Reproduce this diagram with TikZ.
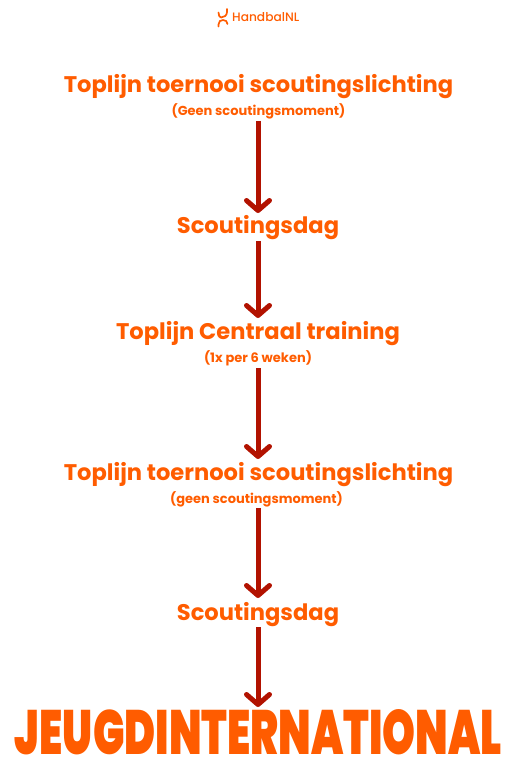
\documentclass[tikz,border=0pt]{standalone}
\usepackage{fontspec}
\setmainfont{Poppins}[BoldFont={Poppins Bold}]
\newfontfamily\heavyfont{Poppins Black}
\newfontfamily\logofont{Poppins Medium}
\usetikzlibrary{arrows.meta}
\definecolor{hnlorange}{HTML}{FF5C00}
\definecolor{hnlred}{HTML}{B21200}
\tikzset{
  title/.style={text=hnlorange,inner sep=0pt,anchor=base,font=\bfseries\fontsize{22.6}{24}\selectfont},
  subtitle/.style={text=hnlorange,inner sep=0pt,anchor=base,font=\bfseries\fontsize{13}{15}\selectfont},
  flow/.style={draw=hnlred,line width=5pt,-{Straight Barb[length=10pt,width=23pt,round]}},
  logo/.style={draw=hnlorange,line width=1.7pt,line cap=round},
}
\begin{document}
\begin{tikzpicture}[x=1pt,y=-1pt]
\useasboundingbox (0,0) rectangle (504,757);
% logo
\draw[logo] (227,9) -- (227,12) .. controls (227,15.5) and (224,17.5) .. (221,17.5);
\draw[logo] (218.5,12.5) .. controls (218.5,15) and (219.5,17.5) .. (221,17.5);
\draw[logo] (218.5,26.5) -- (218.5,24.5) .. controls (218.5,21.5) and (220.5,20) .. (223,20) .. controls (225.5,20) and (227.5,21.5) .. (227.5,24);
\node[inner sep=0pt,anchor=base west,text=hnlorange,font=\logofont\fontsize{12.2}{14}\selectfont] (brand) at (232,22) {HandbalNL};
% texts
\node[title] (t1) at (258.5,93) {Toplijn toernooi scoutingslichting};
\node[subtitle] (s1) at (258.5,116) {(Geen scoutingsmoment)};
\node[title] (t2) at (258,233) {Scoutingsdag};
\node[title] (t3) at (258,339) {Toplijn Centraal training};
\node[subtitle] (s3) at (258,362) {(1x per 6 weken)};
\node[title] (t4) at (258.5,480) {Toplijn toernooi scoutingslichting};
\node[subtitle] (s4) at (256.5,503) {(geen scoutingsmoment)};
\node[title] (t5) at (258,620) {Scoutingsdag};
\node[inner sep=0pt,anchor=base,text=hnlorange] (final) at (258.5,754.5) {\resizebox{487pt}{45pt}{\heavyfont JEUGDINTERNATIONAL}};
% connectors
\coordinate (a1) at (258,121); \coordinate (b1) at (258,213);
\coordinate (a2) at (258,241); \coordinate (b2) at (258,318);
\coordinate (a3) at (258,368); \coordinate (b3) at (258,459);
\coordinate (a4) at (258,508); \coordinate (b4) at (258,598);
\coordinate (a5) at (258,627); \coordinate (b5) at (258,707);
\draw[flow] (a1) -- (b1);
\draw[flow] (a2) -- (b2);
\draw[flow] (a3) -- (b3);
\draw[flow] (a4) -- (b4);
\draw[flow] (a5) -- (b5);
\end{tikzpicture}
\end{document}
